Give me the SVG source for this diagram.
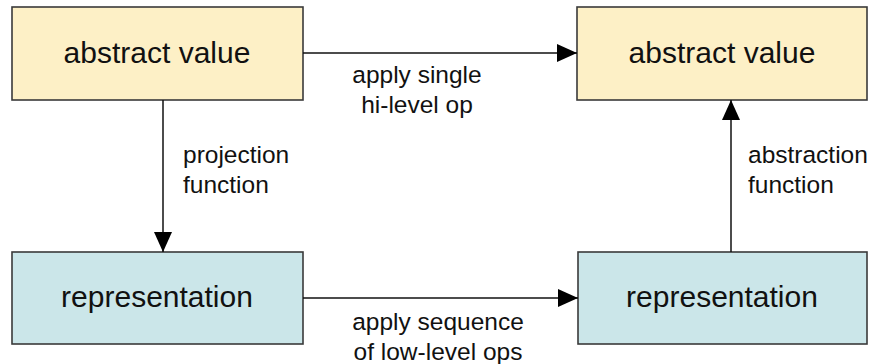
<svg xmlns="http://www.w3.org/2000/svg" width="874" height="364" viewBox="0 0 874 364">
  <style>
    .box { stroke: #3a3a3a; stroke-width: 1.6; }
    .abs { fill: #fdf0c6; }
    .rep { fill: #cbe6e9; }
    .title { font-family: "Liberation Sans", Arial, sans-serif; font-size: 30px; fill: #111; text-anchor: middle; }
    .lbl { font-family: "Liberation Sans", Arial, sans-serif; font-size: 24.5px; fill: #111; }
    .mid { text-anchor: middle; }
    .edge { stroke: #111; stroke-width: 1.5; fill: none; marker-end: url(#arrow); }
  </style>
  <defs>
    <marker id="arrow" viewBox="0 0 20 18" refX="20" refY="9" markerWidth="20" markerHeight="18" markerUnits="userSpaceOnUse" orient="auto">
      <path d="M0,0 L20,9 L0,18 Z" fill="#000"/>
    </marker>
  </defs>

  <g id="abstract-value-start">
    <rect class="box abs" x="12" y="7" width="291" height="93"/>
    <text class="title" x="157" y="63">abstract value</text>
  </g>
  <g id="abstract-value-end">
    <rect class="box abs" x="577" y="7" width="290" height="93"/>
    <text class="title" x="722" y="63">abstract value</text>
  </g>
  <g id="representation-start">
    <rect class="box rep" x="12" y="252" width="291" height="92"/>
    <text class="title" x="157" y="307">representation</text>
  </g>
  <g id="representation-end">
    <rect class="box rep" x="578" y="252" width="289" height="92"/>
    <text class="title" x="722" y="307">representation</text>
  </g>

  <g id="connectors">
    <line class="edge" x1="303" y1="53" x2="577" y2="53"/>
    <line class="edge" x1="163" y1="100" x2="163" y2="252"/>
    <line class="edge" x1="303" y1="298" x2="578" y2="298"/>
    <line class="edge" x1="731" y1="252" x2="731" y2="100"/>
  </g>

  <g id="labels">
    <text class="lbl mid" x="417" y="83">apply single</text>
    <text class="lbl mid" x="417" y="113">hi-level op</text>
    <text class="lbl" x="183" y="163">projection</text>
    <text class="lbl" x="183" y="193">function</text>
    <text class="lbl" x="748" y="163">abstraction</text>
    <text class="lbl" x="748" y="193">function</text>
    <text class="lbl mid" x="438" y="330">apply sequence</text>
    <text class="lbl mid" x="438" y="360">of low-level ops</text>
  </g>
</svg>
